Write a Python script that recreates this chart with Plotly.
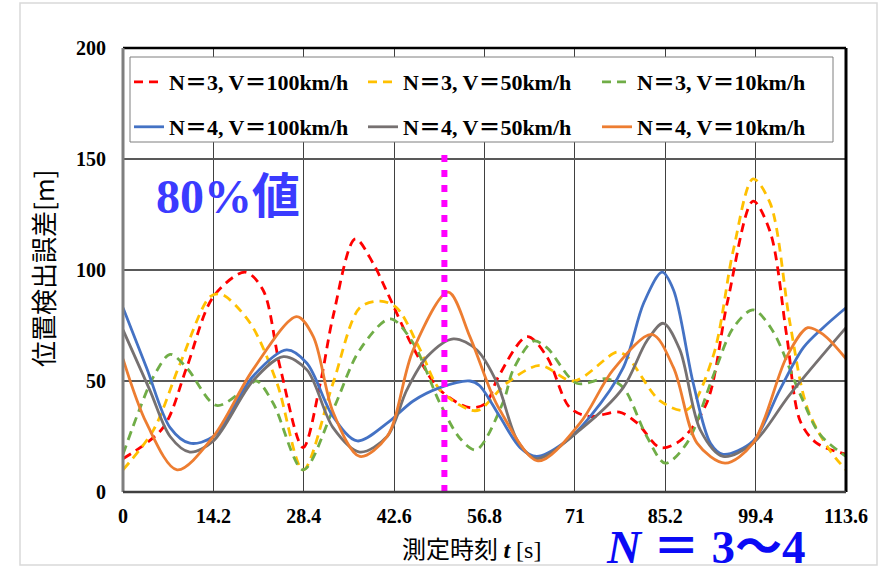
import plotly.graph_objects as go

# ---- data ----
tick_vals = [0, 14.2, 28.4, 42.6, 56.8, 71, 85.2, 99.4, 113.6]
tick_text = ["0", "14.2", "28.4", "42.6", "56.8", "71", "85.2", "99.4", "113.6"]
y_ticks = [0, 50, 100, 150, 200]

t_n3v100 = [0, 6.3, 10, 14.2, 19.2, 22, 24.7, 28.3, 31, 33, 36.5, 39.3, 41.5, 45.6, 49.8, 54.5, 57, 59, 63.5, 66.6, 70.2, 73.4, 78, 80.8, 84.4, 87.5, 91.7, 95, 99, 101.7, 104.3, 106.4, 109, 113.6]
v_n3v100 = [15, 29, 56, 88, 99, 91, 56, 20, 49, 79, 114, 103, 90, 65, 46, 38, 40, 52, 70, 61, 38, 34, 36, 31, 20, 23, 40, 86, 131, 117, 70, 32, 22, 17]

t_n3v50 = [0, 4.8, 9, 13.7, 15.5, 20, 24.2, 28.3, 33, 37.2, 40.4, 43, 46.7, 49.8, 54.5, 56, 60.3, 65.5, 70.8, 77.6, 79.2, 84.4, 88.6, 92.7, 95.9, 99, 101.7, 104.8, 107.5, 111, 113.6]
v_n3v50 = [10, 28, 58, 88, 89, 76, 49, 10, 49, 83, 86, 83, 64, 46, 37, 37, 49, 57, 50, 63, 61, 41, 37, 61, 109, 141, 130, 76, 38, 19, 10]

t_n3v10 = [0, 2.7, 4.8, 7.4, 10, 14.7, 19.4, 21, 23.6, 28.3, 33, 37.2, 42, 45.6, 49.8, 53, 55.5, 59.8, 61.3, 64.5, 66.6, 71.3, 76, 78.6, 82.3, 85.2, 88.6, 92.7, 95.9, 99, 102, 106.4, 109.5, 113.6]
v_n3v10 = [17, 38, 52, 62, 56, 39, 47, 50, 40, 10, 37, 64, 78, 67, 40, 24, 19, 41, 55, 68, 65, 49, 51, 47, 25, 13, 22, 52, 74, 82, 73, 44, 26, 16]

t_n4v100 = [0, 3.7, 7.4, 10.5, 14.2, 20.4, 25.7, 28.9, 33, 36.8, 41.5, 45.6, 49.8, 54.5, 56, 59.2, 62.4, 65, 69.2, 73.4, 78.6, 81.8, 84.7, 86.5, 89.6, 92.3, 94.3, 99, 103.2, 106.9, 110, 113.6]
v_n4v100 = [83, 56, 29, 22, 25, 52, 64, 58, 34, 23, 31, 41, 47, 50, 48, 34, 20, 16, 22, 34, 56, 85, 99, 91, 49, 22, 17, 23, 46, 65, 74, 83]

t_n4v50 = [0, 4.2, 7.4, 10.5, 14.2, 20.4, 25.2, 28.9, 33, 37.2, 41.5, 44.6, 47.8, 51.9, 55.6, 58.8, 62, 65, 71.8, 78.6, 82.3, 84.9, 87.5, 90.7, 94.3, 99, 104.8, 113.6]
v_n4v50 = [73, 46, 25, 18, 23, 50, 61, 55, 29, 18, 25, 46, 61, 69, 64, 49, 23, 15, 28, 47, 68, 76, 64, 28, 16, 22, 44, 74]

t_n4v10 = [0, 3.7, 8.5, 14.2, 20.4, 27.3, 29.9, 33, 37.2, 41.5, 45.6, 51.1, 54.5, 57.7, 59.2, 65.2, 71.8, 77, 83.1, 86.5, 90.2, 94.6, 99, 104.3, 107.6, 110, 113.6]
v_n4v10 = [60, 31, 10, 25, 55, 79, 70, 36, 16, 25, 64, 90, 70, 46, 37, 14, 31, 55, 71, 56, 22, 13, 22, 61, 74, 71, 60]

marker_t = 50.5
marker_range = [0, 152]

names = ["N＝3, V＝100km/h", "N＝3, V＝50km/h", "N＝3, V＝10km/h",
         "N＝4, V＝100km/h", "N＝4, V＝50km/h", "N＝4, V＝10km/h"]

# ---- styles ----
series = [
    (t_n3v100, v_n3v100, "#FF0000", "9px,6px", "legend"),
    (t_n3v50, v_n3v50, "#FFC000", "9px,6px", "legend"),
    (t_n3v10, v_n3v10, "#70AD47", "9px,6px", "legend"),
    (t_n4v100, v_n4v100, "#4472C4", "solid", "legend2"),
    (t_n4v50, v_n4v50, "#767171", "solid", "legend2"),
    (t_n4v10, v_n4v10, "#ED7D31", "solid", "legend2"),
]

fig = go.Figure()
for (t, v, c, d, lg), nm in zip(series, names):
    fig.add_trace(go.Scatter(
        x=t, y=v, mode="lines", name=nm, legend=lg,
        line=dict(color=c, width=2.8, dash=d, shape="spline", smoothing=0.9),
    ))

fig.add_trace(go.Scatter(
    x=[marker_t, marker_t], y=marker_range, mode="lines", showlegend=False,
    line=dict(color="#FF00FF", width=6, dash="7px,8px"),
))

serif = "Liberation Serif, 'Noto Sans CJK JP', serif"
sans = "'Noto Sans CJK JP', sans-serif"

legend_common = dict(
    orientation="h", bgcolor="rgba(0,0,0,0)", borderwidth=0,
    font=dict(family=serif, size=22, color="black", weight="bold"),
    itemwidth=30, entrywidth=189, entrywidthmode="pixels",
    xanchor="left", yanchor="top", traceorder="normal",
)

def px2x(px):
    return (px - 123) / 723.0

def py2y(py):
    return (492 - py) / 444.0

fig.update_layout(
    width=886, height=573,
    margin=dict(l=123, r=40, t=48, b=81),
    paper_bgcolor="white", plot_bgcolor="white",
    legend=dict(x=px2x(129), y=py2y(61), **legend_common),
    legend2=dict(x=px2x(129), y=py2y(106), **legend_common),
    xaxis=dict(
        range=[0, 113.6], tickvals=tick_vals, ticktext=tick_text,
        showgrid=True, gridcolor="#404040", gridwidth=1,
        zeroline=False, showline=False, ticks="",
        tickfont=dict(family=serif, size=20, color="black", weight="bold"),
        ticklabelstandoff=10,
    ),
    yaxis=dict(
        range=[0, 200], tickvals=y_ticks,
        showgrid=True, gridcolor="#595959", gridwidth=1.5,
        zeroline=False, showline=False, ticks="",
        tickfont=dict(family=serif, size=20, color="black", weight="bold"),
        ticklabelstandoff=16,
    ),
    showlegend=True,
)

shapes = [
    # outer chart frame
    dict(type="rect", xref="paper", yref="paper",
         x0=px2x(20), x1=px2x(877), y0=py2y(565), y1=py2y(3),
         line=dict(color="#D9D9D9", width=1.5), layer="below"),
    # plot border
    dict(type="line", xref="paper", yref="paper", x0=0, x1=1, y0=1, y1=1,
         line=dict(color="black", width=2.5), layer="above"),
    dict(type="line", xref="paper", yref="paper", x0=1, x1=1, y0=0, y1=1,
         line=dict(color="black", width=3), layer="above"),
    dict(type="line", xref="paper", yref="paper", x0=0, x1=0, y0=0, y1=1,
         line=dict(color="#7F7F7F", width=3), layer="above"),
    dict(type="line", xref="paper", yref="paper", x0=0, x1=1, y0=0, y1=0,
         line=dict(color="#404040", width=2.5), layer="above"),
    # legend box
    dict(type="rect", xref="paper", yref="paper",
         x0=px2x(130), x1=px2x(833), y0=py2y(142), y1=py2y(57),
         fillcolor="white", line=dict(color="#7F7F7F", width=1), layer="above"),
]
fig.update_layout(shapes=shapes)

annotations = [
    dict(text="80%値", x=px2x(228), y=py2y(196), xref="paper", yref="paper",
         showarrow=False, xanchor="center", yanchor="middle",
         font=dict(family=serif, size=48, color="#3B3BFF", weight="bold")),
    dict(text="<i>N</i> ＝ 3〜4", x=px2x(705), y=py2y(547), xref="paper", yref="paper",
         showarrow=False, xanchor="center", yanchor="middle",
         font=dict(family=serif, size=47, color="#0A0AF5", weight="bold")),
    dict(text="測定時刻 <span style='font-family:Liberation Serif'><i><b>t</b></i> [s]</span>",
         x=px2x(471), y=py2y(547), xref="paper", yref="paper",
         showarrow=False, xanchor="center", yanchor="middle",
         font=dict(family=sans, size=24, color="black")),
    dict(text="位置検出誤差[m]", x=px2x(42), y=py2y(268), xref="paper", yref="paper",
         showarrow=False, xanchor="center", yanchor="middle", textangle=-90,
         font=dict(family=sans, size=26, color="black")),
]
fig.update_layout(annotations=annotations)

fig.write_html("out.html")
